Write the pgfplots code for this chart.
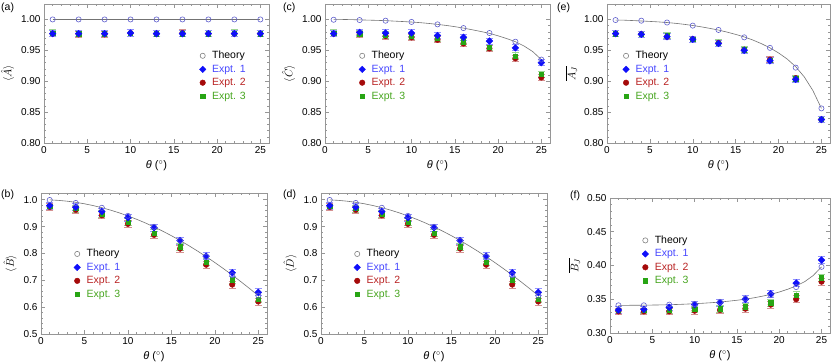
\documentclass[border=0pt]{standalone}
\usepackage{pgfplots}
\pgfplotsset{compat=1.18}
\usepackage{pgfplotstable}
\usepackage{fontspec}
\setmainfont{Liberation Sans}

\definecolor{framegray}{RGB}{150,150,150}
\definecolor{thblue}{RGB}{95,95,205}
\definecolor{eone}{RGB}{15,15,250}
\definecolor{etwo}{RGB}{165,10,10}
\definecolor{ethree}{RGB}{40,165,20}
\definecolor{eonet}{RGB}{70,70,255}
\definecolor{etwot}{RGB}{185,35,35}
\definecolor{ethreet}{RGB}{70,165,30}

% x theory expt1 expt2 expt3
\pgfplotstableread{
x th e1 e2 e3
1 1.000 0.977 0.977 0.978
4 1.000 0.977 0.976 0.977
7 1.000 0.977 0.976 0.977
10 1.000 0.978 0.978 0.978
13 1.000 0.977 0.977 0.977
16 1.000 0.977 0.978 0.977
19 1.000 0.977 0.977 0.977
22 1.000 0.977 0.977 0.978
25 1.000 0.977 0.977 0.977
}\dataA
\pgfplotstableread{
x th e1 e2 e3
1 0.9995 0.977 0.977 0.978
4 0.9990 0.979 0.976 0.977
7 0.998 0.978 0.973 0.975
10 0.996 0.978 0.971 0.973
13 0.992 0.974 0.967 0.969
16 0.986 0.971 0.961 0.964
19 0.978 0.965 0.953 0.955
22 0.964 0.954 0.937 0.941
25 0.935 0.930 0.906 0.911
}\dataC
\pgfplotstableread{
x th e1 e2 e3
1 0.999 0.977 0.977 0.977
4 0.998 0.976 0.976 0.976
7 0.995 0.972 0.972 0.974
10 0.990 0.968 0.968 0.968
13 0.983 0.961 0.962 0.962
16 0.971 0.950 0.951 0.951
19 0.954 0.933 0.935 0.934
22 0.922 0.903 0.905 0.904
25 0.856 0.838 0.838 0.838
}\dataE
\pgfplotstableread{
x th e1 e2 e3
1 0.999 0.978 0.973 0.976
4 0.988 0.972 0.962 0.967
7 0.970 0.956 0.942 0.947
10 0.940 0.933 0.910 0.916
13 0.899 0.896 0.869 0.875
16 0.848 0.848 0.818 0.825
19 0.788 0.790 0.758 0.768
22 0.719 0.728 0.684 0.702
25 0.643 0.655 0.621 0.630
}\dataB
\pgfplotstableread{
x th e1 e2 e3
1 0.341 0.334 0.332 0.334
4 0.341 0.335 0.332 0.334
7 0.342 0.338 0.332 0.334
10 0.343 0.342 0.333 0.335
13 0.346 0.345 0.334 0.336
16 0.351 0.350 0.336 0.339
19 0.356 0.358 0.342 0.345
22 0.368 0.374 0.350 0.356
25 0.398 0.408 0.376 0.382
}\dataF

% theory curves
\pgfplotstableread{
x y
1 1.000
25 1.000
}\curveA
\pgfplotstableread{
x y
1 1.0000
2 1.0000
3 0.9997
4 0.9993
5 0.9989
6 0.9985
7 0.9980
8 0.9973
9 0.9966
10 0.9958
11 0.9948
12 0.9935
13 0.9920
14 0.9903
15 0.9883
16 0.9860
17 0.9833
18 0.9805
19 0.9775
20 0.9735
21 0.9690
22 0.9640
23 0.9570
24 0.9480
25 0.9350
}\curveC
\pgfplotstableread{
x y
1 0.9990
2 0.9988
3 0.9982
4 0.9975
5 0.9968
6 0.9960
7 0.9950
8 0.9937
9 0.9921
10 0.9902
11 0.9880
12 0.9855
13 0.9828
14 0.9795
15 0.9758
16 0.9717
17 0.9667
18 0.9608
19 0.9540
20 0.9458
21 0.9360
22 0.9235
23 0.9070
24 0.8850
25 0.8560
}\curveE
\pgfplotstableread{
x y
1 0.99939
2 0.99756
3 0.99452
4 0.99027
5 0.98481
6 0.97815
7 0.97030
8 0.96126
9 0.95106
10 0.93969
11 0.92718
12 0.91355
13 0.89879
14 0.88295
15 0.86603
16 0.84805
17 0.82904
18 0.80902
19 0.78801
20 0.76604
21 0.74314
22 0.71934
23 0.69466
24 0.66913
25 0.64279
}\curveB
\pgfplotstableread{
x y
1 0.3410
2 0.3410
3 0.3411
4 0.3412
5 0.3414
6 0.3416
7 0.3419
8 0.3423
9 0.3428
10 0.3434
11 0.3441
12 0.3449
13 0.3459
14 0.3471
15 0.3485
16 0.3501
17 0.3521
18 0.3545
19 0.3573
20 0.3607
21 0.3648
22 0.3698
23 0.3760
24 0.3850
25 0.3980
}\curveF

\pgfplotsset{
  panel/.style={
    scale only axis, xmin=0, xmax=26,
    axis line style={framegray, line width=0.6pt},
    every tick/.style={framegray, line width=0.5pt},
    xtick={0,5,...,25}, minor x tick num=4, minor y tick num=4,
    tick align=inside,
    major tick length=4pt, minor tick length=2pt,
    ticklabel style={font=\fontsize{10}{12}\selectfont},
    /pgf/number format/assume math mode=true,
    xlabel={\textit{θ} (${}^\circ$)},
    label style={font=\fontsize{11}{13}\selectfont},
    legend style={draw=none, fill=none, font=\fontsize{10.5}{12}\selectfont,
      row sep=2.2pt, inner sep=0pt,
      nodes={inner sep=1.2pt},
      /tikz/every odd column/.append style={column sep=5pt}},
    legend cell align=left,
    legend image code/.code={\draw[#1] plot coordinates {(0pt,0pt)};},
    clip=false,
  },
  yf2/.style={yticklabel style={/pgf/number format/.cd, fixed, fixed zerofill, precision=2}},
  yf1/.style={yticklabel style={/pgf/number format/.cd, fixed, fixed zerofill, precision=1}},
  thline/.style={no marks, color=gray!90!black, line width=0.6pt, forget plot},
  thmk/.style={only marks, mark=o, mark size=2.6pt, color=thblue, mark options={line width=0.6pt}, forget plot},
  ex/.style n args={5}{only marks, mark=#2, mark size=#3, color=#1, mark options={#5}, forget plot,
    error bars/.cd, y dir=both, y fixed=#4,
    error bar style={#1!45!white, line width=0.9pt},
    error mark options={#1!45!white, rotate=90, mark size=3.6pt, line width=0.9pt}},
}

\newcommand{\legimgs}{%
  \addlegendimage{only marks, mark=o, mark size=2.6pt, gray, mark options={line width=0.6pt}}
  \addlegendimage{only marks, mark=square*, mark size=2.3pt, eone, mark options={rotate=45}}
  \addlegendimage{only marks, mark=*, mark size=2.8pt, etwo}
  \addlegendimage{only marks, mark=square*, mark size=2.1pt, ethree}
}

\newcommand{\panelplots}[3]{%
  \addplot[thline] table[x=x,y=y]{#2};
  \addplot[ex={etwo}{*}{2.8pt}{#3}{}] table[x=x,y=e2]{#1};
  \addplot[ex={ethree}{square*}{2.1pt}{#3}{}] table[x=x,y=e3]{#1};
  \addplot[ex={eone}{square*}{2.4pt}{#3}{rotate=45}] table[x=x,y=e1]{#1};
  \addplot[thmk] table[x=x,y=th]{#1};
}

\begin{document}
\begin{tikzpicture}
\useasboundingbox (0,0) rectangle (831pt,363pt);
\tikzset{plab/.style={anchor=west, inner sep=0pt, font=\fontsize{10.5}{12}\selectfont}}

% (a)
\begin{axis}[panel, yf2, at={(44pt,220pt)}, anchor=south west, width=225pt, height=139pt,
  ymin=0.8, ymax=1.025, ytick={0.80,0.85,...,1.00},
  ylabel={$\langle\hat{A}\rangle$},
  legend style={at={(0.69,0.67)}, anchor=north west}]
\legimgs
\panelplots{\dataA}{\curveA}{0.005}
\legend{Theory, \textcolor{eonet}{Expt. 1}, \textcolor{etwot}{Expt. 2}, \textcolor{ethreet}{Expt. 3}}
\end{axis}

% (c)
\begin{axis}[panel, yf2, at={(325pt,220pt)}, anchor=south west, width=225pt, height=139pt,
  ymin=0.8, ymax=1.025, ytick={0.80,0.85,...,1.00},
  ylabel={$\langle\hat{C}\rangle$},
  legend style={at={(0.15,0.67)}, anchor=north west}]
\legimgs
\panelplots{\dataC}{\curveC}{0.005}
\legend{Theory, \textcolor{eonet}{Expt. 1}, \textcolor{etwot}{Expt. 2}, \textcolor{ethreet}{Expt. 3}}
\end{axis}

% (e)
\begin{axis}[panel, yf2, at={(607pt,220pt)}, anchor=south west, width=223pt, height=139pt,
  ymin=0.8, ymax=1.025, ytick={0.80,0.85,...,1.00},
  ylabel={$\overline{A_J}$},
  legend style={at={(0.07,0.67)}, anchor=north west}]
\legimgs
\panelplots{\dataE}{\curveE}{0.005}
\legend{Theory, \textcolor{eonet}{Expt. 1}, \textcolor{etwot}{Expt. 2}, \textcolor{ethreet}{Expt. 3}}
\end{axis}

% (b)
\begin{axis}[panel, yf1, at={(41pt,29pt)}, anchor=south west, width=226pt, height=141pt,
  ymin=0.5, ymax=1.025, ytick={0.5,0.6,...,1.0},
  ylabel={$\langle\hat{B}\rangle$},
  legend style={at={(0.145,0.61)}, anchor=north west}]
\legimgs
\panelplots{\dataB}{\curveB}{0.013}
\legend{Theory, \textcolor{eonet}{Expt. 1}, \textcolor{etwot}{Expt. 2}, \textcolor{ethreet}{Expt. 3}}
\end{axis}

% (d)
\begin{axis}[panel, yf1, at={(321pt,29pt)}, anchor=south west, width=226pt, height=141pt,
  ymin=0.5, ymax=1.025, ytick={0.5,0.6,...,1.0},
  ylabel={$\langle\hat{D}\rangle$},
  legend style={at={(0.145,0.61)}, anchor=north west}]
\legimgs
\panelplots{\dataB}{\curveB}{0.013}
\legend{Theory, \textcolor{eonet}{Expt. 1}, \textcolor{etwot}{Expt. 2}, \textcolor{ethreet}{Expt. 3}}
\end{axis}

% (f)
\begin{axis}[panel, yf2, at={(610pt,30pt)}, anchor=south west, width=220pt, height=135pt,
  ymin=0.3, ymax=0.5, ytick={0.30,0.35,...,0.50},
  ylabel={$\overline{B_J}$},
  legend style={at={(0.145,0.73)}, anchor=north west}]
\legimgs
\panelplots{\dataF}{\curveF}{0.005}
\legend{Theory, \textcolor{eonet}{Expt. 1}, \textcolor{etwot}{Expt. 2}, \textcolor{ethreet}{Expt. 3}}
\end{axis}

\node[plab] at (1pt,355pt) {(a)};
\node[plab] at (283pt,355pt) {(c)};
\node[plab] at (557pt,355pt) {(e)};
\node[plab] at (1pt,168pt) {(b)};
\node[plab] at (283pt,168pt) {(d)};
\node[plab] at (570pt,167pt) {(f)};
\end{tikzpicture}
\end{document}
